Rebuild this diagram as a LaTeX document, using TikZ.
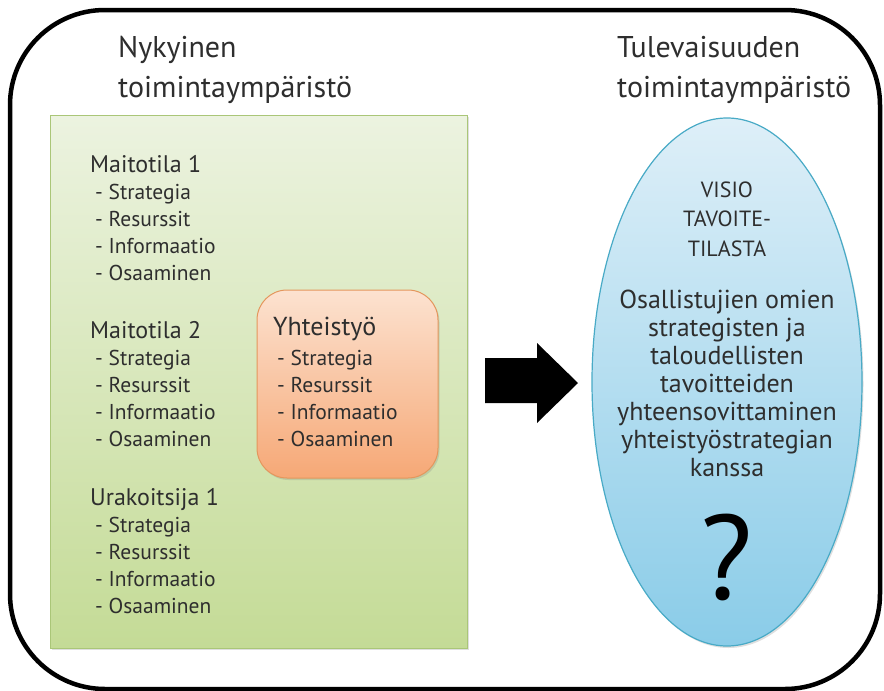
\documentclass[tikz,border=0pt]{standalone}
\usepackage{fontspec}
\setmainfont{PT Sans}
\usetikzlibrary{shapes.geometric,shadows}
\definecolor{ink}{HTML}{2E2E2E}
\definecolor{grtop}{RGB}{236,243,224}
\definecolor{grbot}{RGB}{196,219,150}
\definecolor{grline}{RGB}{170,198,120}
\definecolor{ortop}{RGB}{252,226,208}
\definecolor{orbot}{RGB}{246,168,118}
\definecolor{orline}{RGB}{228,150,92}
\definecolor{bltop}{RGB}{222,239,248}
\definecolor{blbot}{RGB}{138,204,232}
\definecolor{blline}{RGB}{72,170,198}
\begin{document}
\begin{tikzpicture}[x=1pt,y=-1pt,
  txt/.style={inner sep=0pt,anchor=base west,text=ink},
  headtxt/.style={txt,font=\fontsize{30}{36}\selectfont},
  grp/.style={txt,font=\fontsize{24}{28}\selectfont},
  itm/.style={txt,font=\fontsize{21.5}{24}\selectfont},
  ctxt/.style={inner sep=0pt,anchor=base,text=ink,font=\fontsize{26}{30}\selectfont},
  captxt/.style={ctxt,font=\fontsize{22}{26}\selectfont},
  softshadow/.style={drop shadow={opacity=0.25,shadow xshift=1.5pt,shadow yshift=-2pt}},
  greenbox/.style={rectangle,draw=grline,line width=1pt,top color=grtop,bottom color=grbot,softshadow},
  orangebox/.style={rectangle,rounded corners=30pt,draw=orline,line width=1pt,top color=ortop,bottom color=orbot,softshadow},
  bluebox/.style={ellipse,draw=blline,line width=1.2pt,top color=bltop,bottom color=blbot,softshadow}]
\useasboundingbox (0,0) rectangle (884,691);

% outer frame
\node[draw=black,line width=4.5pt,rounded corners=95pt,minimum width=870pt,minimum height=679pt,inner sep=0pt] (frame) at (445,349.5) {};

% column headings
\node[headtxt] (nowA) at (118,57) {Nykyinen};
\node[headtxt] (nowB) at (118,97) {toimintaympäristö};
\node[headtxt] (futA) at (617,57) {Tulevaisuuden};
\node[headtxt] (futB) at (617,97) {toimintaympäristö};

% current environment
\node[greenbox,minimum width=417pt,minimum height=533pt,inner sep=0pt] (current) at (258.5,381.5) {};
\foreach \nm/\title/\yy in {m1/Maitotila 1/172, m2/Maitotila 2/338, u1/Urakoitsija 1/505} {
  \node[grp] (\nm) at (90,\yy) {\title};
  \foreach \i/\item in {1/Strategia,2/Resurssit,3/Informaatio,4/Osaaminen}
    \node[itm] (\nm-\i) at (95,{\yy+27*\i}) {- \item};
}

% cooperation
\node[orangebox,minimum width=181pt,minimum height=188pt,inner sep=0pt] (coop) at (347.5,384) {};
\node[txt,font=\fontsize{26}{30}\selectfont] (coopT) at (273,335) {Yhteistyö};
\foreach \i/\item in {1/Strategia,2/Resurssit,3/Informaatio,4/Osaaminen}
  \node[itm] (coop-\i) at (277,{338+27*\i}) {- \item};

% transition arrow
\fill[black] (485,358) -- (537,358) -- (537,343) -- (578,383) -- (537,423) -- (537,403) -- (485,403) -- cycle;

% future vision
\node[bluebox,minimum width=270pt,minimum height=528pt,inner sep=0pt] (vision) at (727,382) {};
\node[captxt] (v1) at (727,197) {VISIO};
\node[captxt] (v2) at (727,226) {TAVOITE-};
\node[captxt] (v3) at (727,256) {TILASTA};
\foreach \i/\line in {0/Osallistujien omien,1/strategisten ja,2/taloudellisten,3/tavoitteiden,4/yhteensovittaminen,5/yhteistyöstrategian,6/kanssa}
  \node[ctxt] (w\i) at (727,{308+28*\i}) {\line};
\node[inner sep=0pt,anchor=base,text=black,font=\fontsize{120}{130}\selectfont] (qm) at (727,599) {?};
\end{tikzpicture}
\end{document}
